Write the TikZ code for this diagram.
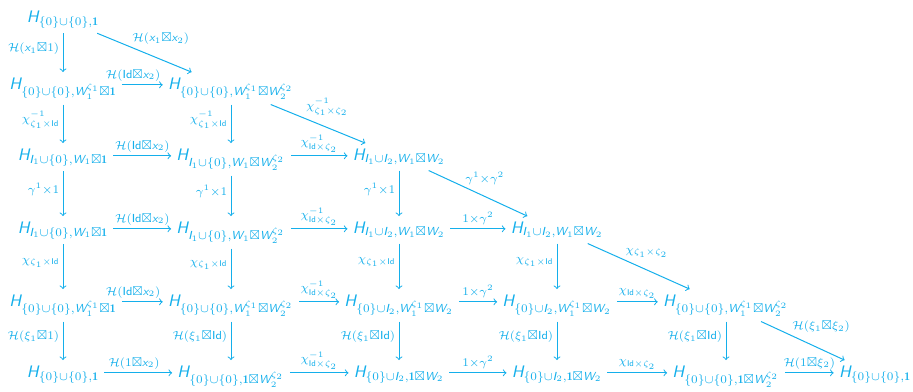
\documentclass[tikz,border=0pt]{standalone}
\usepackage{amssymb}
\usepackage{fontspec}
\DeclareSymbolFont{sfletters}{TU}{lmss}{m}{sl}
\DeclareSymbolFont{sfdigits}{TU}{lmss}{m}{n}
\DeclareMathSymbol{H}{\mathalpha}{sfletters}{`H}
\DeclareMathSymbol{W}{\mathalpha}{sfletters}{`W}
\DeclareMathSymbol{I}{\mathalpha}{sfletters}{`I}
\DeclareMathSymbol{x}{\mathalpha}{sfletters}{`x}
\DeclareMathSymbol{0}{\mathord}{sfdigits}{`0}
\DeclareMathSymbol{1}{\mathord}{sfdigits}{`1}
\DeclareMathSymbol{2}{\mathord}{sfdigits}{`2}
\SetMathAlphabet{\mathbf}{normal}{TU}{lmss}{bx}{n}
\DeclareMathAlphabet{\mathsfup}{TU}{lmss}{m}{n}
\newcommand{\Idd}{\mathsfup{Id}}
\definecolor{cy}{RGB}{20,175,235}
\tikzset{
  obj/.style={anchor=base, inner sep=3pt},
  ar/.style={->, line width=0.6pt},
  vl/.style={midway, anchor=east, yshift=2.4pt, inner sep=2pt},
  hl/.style={midway, anchor=south, inner sep=2pt},
  dl/.style={pos=0.35, anchor=south west, inner sep=1pt},
}
\begin{document}
\begin{tikzpicture}[x=0.6pt, y=-0.6pt, color=cy]
\useasboundingbox (0,0) rectangle (913,391);
% row 0
\node[obj] (A0) at (63,22) {$H_{\{0\}\cup\{0\},\mathbf{1}}$};
% row 1
\node[obj] (A1) at (63,89) {$H_{\{0\}\cup\{0\},W_1^{\zeta_1}\boxtimes\mathbf{1}}$};
\node[obj] (B1) at (231,89) {$H_{\{0\}\cup\{0\},W_1^{\zeta_1}\boxtimes W_2^{\zeta_2}}$};
% row 2
\node[obj] (A2) at (63,160) {$H_{I_1\cup\{0\},W_1\boxtimes\mathbf{1}}$};
\node[obj] (B2) at (231,160) {$H_{I_1\cup\{0\},W_1\boxtimes W_2^{\zeta_2}}$};
\node[obj] (C2) at (399,160) {$H_{I_1\cup I_2,W_1\boxtimes W_2}$};
% row 3
\node[obj] (A3) at (63,233) {$H_{I_1\cup\{0\},W_1\boxtimes\mathbf{1}}$};
\node[obj] (B3) at (231,233) {$H_{I_1\cup\{0\},W_1\boxtimes W_2^{\zeta_2}}$};
\node[obj] (C3) at (399,233) {$H_{I_1\cup I_2,W_1\boxtimes W_2}$};
\node[obj] (D3) at (557,233) {$H_{I_1\cup I_2,W_1\boxtimes W_2}$};
% row 4
\node[obj] (A4) at (63,306) {$H_{\{0\}\cup\{0\},W_1^{\zeta_1}\boxtimes\mathbf{1}}$};
\node[obj] (B4) at (231,306) {$H_{\{0\}\cup\{0\},W_1^{\zeta_1}\boxtimes W_2^{\zeta_2}}$};
\node[obj] (C4) at (399,306) {$H_{\{0\}\cup I_2,W_1^{\zeta_1}\boxtimes W_2}$};
\node[obj] (D4) at (557,306) {$H_{\{0\}\cup I_2,W_1^{\zeta_1}\boxtimes W_2}$};
\node[obj] (E4) at (726,306) {$H_{\{0\}\cup\{0\},W_1^{\zeta_1}\boxtimes W_2^{\zeta_2}}$};
% row 5
\node[obj] (A5) at (63,377) {$H_{\{0\}\cup\{0\},\mathbf{1}}$};
\node[obj] (B5) at (231,377) {$H_{\{0\}\cup\{0\},\mathbf{1}\boxtimes W_2^{\zeta_2}}$};
\node[obj] (C5) at (399,377) {$H_{\{0\}\cup I_2,\mathbf{1}\boxtimes W_2}$};
\node[obj] (D5) at (557,377) {$H_{\{0\}\cup I_2,\mathbf{1}\boxtimes W_2}$};
\node[obj] (E5) at (726,377) {$H_{\{0\}\cup\{0\},\mathbf{1}\boxtimes W_2^{\zeta_2}}$};
\node[obj] (F5) at (875,377) {$H_{\{0\}\cup\{0\},\mathbf{1}}$};

% vertical arrows, column A
\draw[ar] (A0.south) -- (A1.north) node[vl] {$\scriptstyle\mathcal{H}(x_1\boxtimes 1)$};
\draw[ar] (A1.south) -- (A2.north) node[vl] {$\scriptstyle\chi^{-1}_{\zeta_1\times\Idd}$};
\draw[ar] (A2.south) -- (A3.north) node[vl] {$\scriptstyle\gamma^1\times 1$};
\draw[ar] (A3.south) -- (A4.north) node[vl] {$\scriptstyle\chi_{\zeta_1\times\Idd}$};
\draw[ar] (A4.south) -- (A5.north) node[vl] {$\scriptstyle\mathcal{H}(\xi_1\boxtimes 1)$};
% column B
\draw[ar] (B1.south) -- (B2.north) node[vl] {$\scriptstyle\chi^{-1}_{\zeta_1\times\Idd}$};
\draw[ar] (B2.south) -- (B3.north) node[vl] {$\scriptstyle\gamma^1\times 1$};
\draw[ar] (B3.south) -- (B4.north) node[vl] {$\scriptstyle\chi_{\zeta_1\times\Idd}$};
\draw[ar] (B4.south) -- (B5.north) node[vl] {$\scriptstyle\mathcal{H}(\xi_1\boxtimes\Idd)$};
% column C
\draw[ar] (C2.south) -- (C3.north) node[vl] {$\scriptstyle\gamma^1\times 1$};
\draw[ar] (C3.south) -- (C4.north) node[vl] {$\scriptstyle\chi_{\zeta_1\times\Idd}$};
\draw[ar] (C4.south) -- (C5.north) node[vl] {$\scriptstyle\mathcal{H}(\xi_1\boxtimes\Idd)$};
% column D
\draw[ar] (D3.south) -- (D4.north) node[vl] {$\scriptstyle\chi_{\zeta_1\times\Idd}$};
\draw[ar] (D4.south) -- (D5.north) node[vl] {$\scriptstyle\mathcal{H}(\xi_1\boxtimes\Idd)$};
% column E
\draw[ar] (E4.south) -- (E5.north) node[vl] {$\scriptstyle\mathcal{H}(\xi_1\boxtimes\Idd)$};

% horizontal arrows
\draw[ar] ([yshift=2.5pt]A1.base east) -- ([yshift=2.5pt]B1.base west) node[hl, xshift=-5.5pt] {$\scriptstyle\mathcal{H}(\Idd\boxtimes x_2)$};
\draw[ar] ([yshift=2.5pt]A2.base east) -- ([yshift=2.5pt]B2.base west) node[hl] {$\scriptstyle\mathcal{H}(\Idd\boxtimes x_2)$};
\draw[ar] ([yshift=2.5pt]B2.base east) -- ([yshift=2.5pt]C2.base west) node[hl] {$\scriptstyle\chi^{-1}_{\Idd\times\zeta_2}$};
\draw[ar] ([yshift=2.5pt]A3.base east) -- ([yshift=2.5pt]B3.base west) node[hl] {$\scriptstyle\mathcal{H}(\Idd\boxtimes x_2)$};
\draw[ar] ([yshift=2.5pt]B3.base east) -- ([yshift=2.5pt]C3.base west) node[hl] {$\scriptstyle\chi^{-1}_{\Idd\times\zeta_2}$};
\draw[ar] ([yshift=2.5pt]C3.base east) -- ([yshift=2.5pt]D3.base west) node[hl] {$\scriptstyle 1\times\gamma^2$};
\draw[ar] ([yshift=2.5pt]A4.base east) -- ([yshift=2.5pt]B4.base west) node[hl, xshift=-5.5pt] {$\scriptstyle\mathcal{H}(\Idd\boxtimes x_2)$};
\draw[ar] ([yshift=2.5pt]B4.base east) -- ([yshift=2.5pt]C4.base west) node[hl] {$\scriptstyle\chi^{-1}_{\Idd\times\zeta_2}$};
\draw[ar] ([yshift=2.5pt]C4.base east) -- ([yshift=2.5pt]D4.base west) node[hl] {$\scriptstyle 1\times\gamma^2$};
\draw[ar] ([yshift=2.5pt]D4.base east) -- ([yshift=2.5pt]E4.base west) node[hl] {$\scriptstyle\chi_{\Idd\times\zeta_2}$};
\draw[ar] ([yshift=2.5pt]A5.base east) -- ([yshift=2.5pt]B5.base west) node[hl, xshift=-2.5pt] {$\scriptstyle\mathcal{H}(1\boxtimes x_2)$};
\draw[ar] ([yshift=2.5pt]B5.base east) -- ([yshift=2.5pt]C5.base west) node[hl] {$\scriptstyle\chi^{-1}_{\Idd\times\zeta_2}$};
\draw[ar] ([yshift=2.5pt]C5.base east) -- ([yshift=2.5pt]D5.base west) node[hl] {$\scriptstyle 1\times\gamma^2$};
\draw[ar] ([yshift=2.5pt]D5.base east) -- ([yshift=2.5pt]E5.base west) node[hl] {$\scriptstyle\chi_{\Idd\times\zeta_2}$};
\draw[ar] ([yshift=2.5pt]E5.base east) -- ([yshift=2.5pt]F5.base west) node[hl] {$\scriptstyle\mathcal{H}(1\boxtimes\xi_2)$};

% diagonal arrows
\draw[ar] (A0) -- (B1) node[dl] {$\scriptstyle\mathcal{H}(x_1\boxtimes x_2)$};
\draw[ar] (B1) -- (C2) node[dl] {$\scriptstyle\chi^{-1}_{\zeta_1\times\zeta_2}$};
\draw[ar] (C2) -- (D3) node[dl] {$\scriptstyle\gamma^1\times\gamma^2$};
\draw[ar] (D3) -- (E4) node[dl] {$\scriptstyle\chi_{\zeta_1\times\zeta_2}$};
\draw[ar] (E4) -- (F5) node[dl] {$\scriptstyle\mathcal{H}(\xi_1\boxtimes\xi_2)$};
\end{tikzpicture}
\end{document}
